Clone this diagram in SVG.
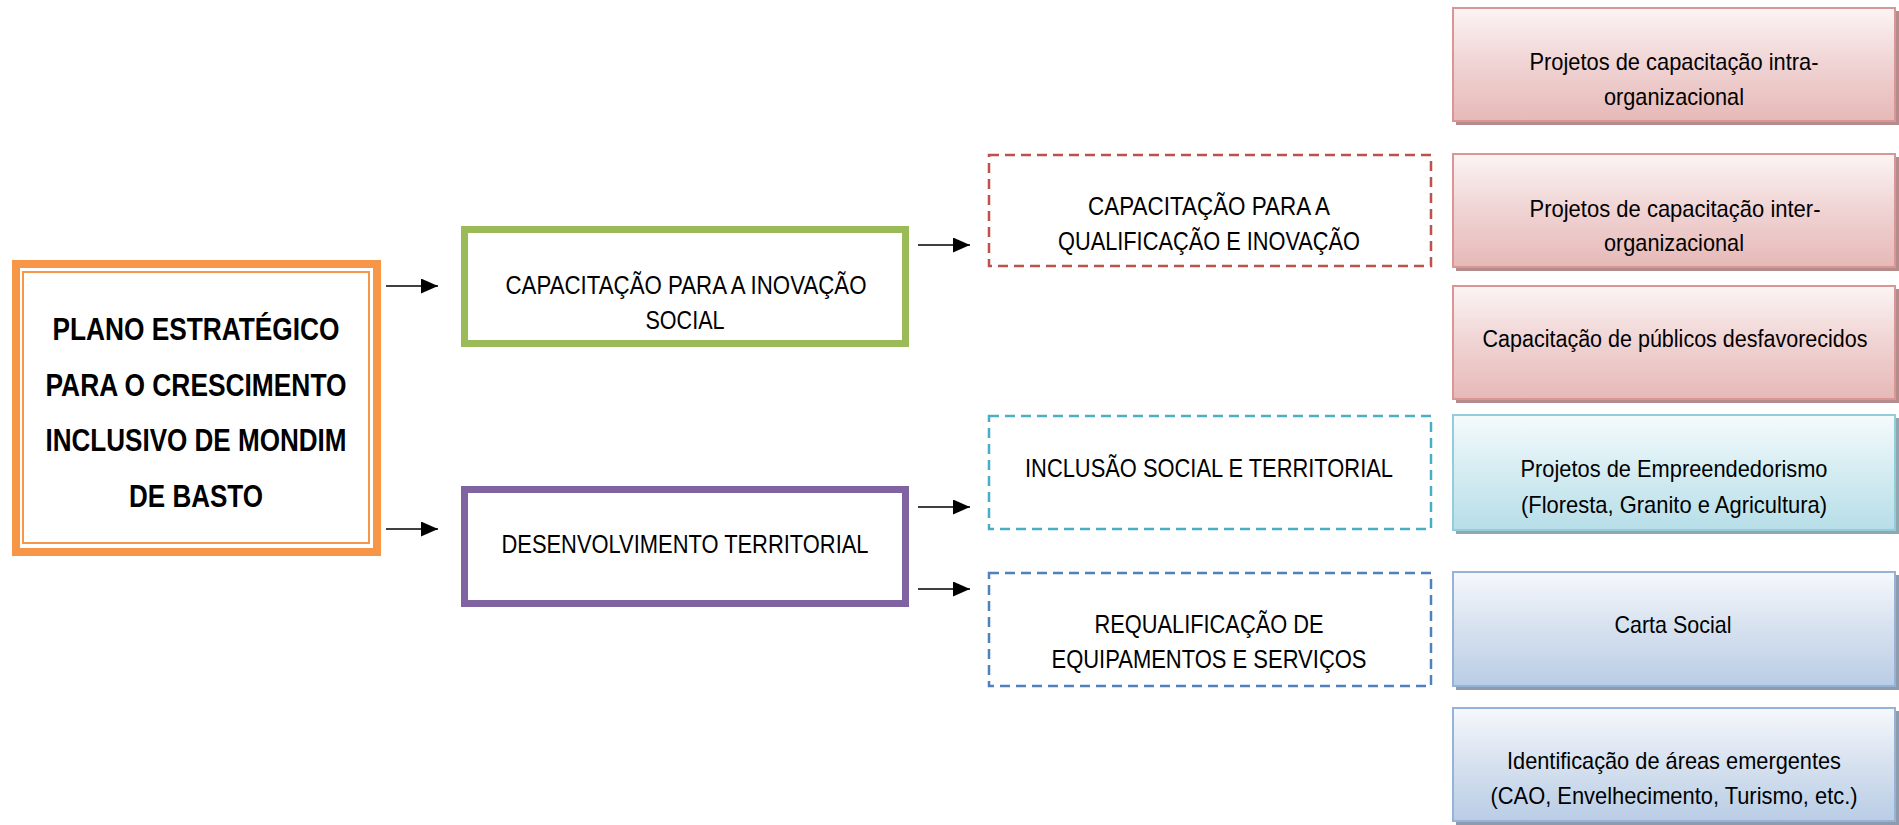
<svg xmlns="http://www.w3.org/2000/svg" width="1899" height="825" viewBox="0 0 1899 825">
<style>
text{font-family:"Liberation Sans",Arial,sans-serif;font-size:25px;fill:#000;text-anchor:middle}
.title{font-weight:bold;font-size:32px}
.sm{font-size:24px}
.xs{font-size:23px}
.dash{fill:none;stroke-width:2.5;stroke-dasharray:10 6}
.conn{stroke:#000;stroke-width:1.6;fill:none;marker-end:url(#arr)}
.red{fill:url(#gRed);stroke:#D99694;stroke-width:2}
.cyan{fill:url(#gCyan);stroke:#93CDDD;stroke-width:2}
.blue{fill:url(#gBlue);stroke:#95B3D7;stroke-width:2}
.shR{fill:#B48C8C}
.shC{fill:#8FA7AE}
.shB{fill:#8E9BAC}
</style>
<defs>
<marker id="arr" markerWidth="17" markerHeight="15" refX="17" refY="7.5" orient="auto" markerUnits="userSpaceOnUse">
<path d="M0,0 L17,7.5 L0,15 Z" fill="#000"/>
</marker>
<linearGradient id="gRed" x1="0" y1="0" x2="0" y2="1">
<stop offset="0" stop-color="#FCF4F4"/><stop offset="0.5" stop-color="#F0D3D3"/><stop offset="1" stop-color="#E6B9B8"/>
</linearGradient>
<linearGradient id="gCyan" x1="0" y1="0" x2="0" y2="1">
<stop offset="0" stop-color="#F5FBFC"/><stop offset="0.5" stop-color="#D4ECF2"/><stop offset="1" stop-color="#B7DEE8"/>
</linearGradient>
<linearGradient id="gBlue" x1="0" y1="0" x2="0" y2="1">
<stop offset="0" stop-color="#F6F8FC"/><stop offset="0.5" stop-color="#D6E1EF"/><stop offset="1" stop-color="#B9CDE5"/>
</linearGradient>
</defs>

<g id="connectors">
<line class="conn" x1="386" y1="286" x2="438" y2="286"/>
<line class="conn" x1="386" y1="529" x2="438" y2="529"/>
<line class="conn" x1="918" y1="245" x2="970" y2="245"/>
<line class="conn" x1="918" y1="507" x2="970" y2="507"/>
<line class="conn" x1="918" y1="589" x2="970" y2="589"/>
</g>

<g id="plano">
<rect x="16" y="264" width="361" height="288" fill="#fff" stroke="#F79646" stroke-width="8"/>
<rect x="23" y="272" width="346" height="271" fill="none" stroke="#F79646" stroke-width="2"/>
<text class="title" x="196" y="340" textLength="287" lengthAdjust="spacingAndGlyphs">PLANO ESTRATÉGICO</text>
<text class="title" x="196" y="396" textLength="301" lengthAdjust="spacingAndGlyphs">PARA O CRESCIMENTO</text>
<text class="title" x="196" y="451" textLength="301" lengthAdjust="spacingAndGlyphs">INCLUSIVO DE MONDIM</text>
<text class="title" x="196" y="507" textLength="134" lengthAdjust="spacingAndGlyphs">DE BASTO</text>
</g>

<g id="capacitacao-inovacao">
<rect x="464.5" y="229.5" width="441" height="114" fill="#fff" stroke="#9BBB59" stroke-width="7"/>
<text x="686" y="294" textLength="361" lengthAdjust="spacingAndGlyphs">CAPACITAÇÃO PARA A INOVAÇÃO</text>
<text x="685" y="329" textLength="79" lengthAdjust="spacingAndGlyphs">SOCIAL</text>
</g>

<g id="desenvolvimento">
<rect x="464.5" y="489.5" width="441" height="114" fill="#fff" stroke="#8064A2" stroke-width="7"/>
<text x="685" y="553" textLength="367" lengthAdjust="spacingAndGlyphs">DESENVOLVIMENTO TERRITORIAL</text>
</g>

<g id="qualificacao">
<rect class="dash" x="989" y="155" width="442" height="111" stroke="#C0504D"/>
<text x="1209" y="215" textLength="242" lengthAdjust="spacingAndGlyphs">CAPACITAÇÃO PARA A</text>
<text x="1209" y="250" textLength="302" lengthAdjust="spacingAndGlyphs">QUALIFICAÇÃO E INOVAÇÃO</text>
</g>

<g id="inclusao">
<rect class="dash" x="989" y="416" width="442" height="113" stroke="#4BACC6"/>
<text x="1209" y="477" textLength="368" lengthAdjust="spacingAndGlyphs">INCLUSÃO SOCIAL E TERRITORIAL</text>
</g>

<g id="requalificacao">
<rect class="dash" x="989" y="573" width="442" height="113" stroke="#4F81BD"/>
<text x="1209" y="633" textLength="229" lengthAdjust="spacingAndGlyphs">REQUALIFICAÇÃO DE</text>
<text x="1209" y="668" textLength="315" lengthAdjust="spacingAndGlyphs">EQUIPAMENTOS E SERVIÇOS</text>
</g>

<g id="intra">
<rect class="shR" x="1456" y="11" width="443" height="114"/>
<rect class="red" x="1453" y="8" width="442" height="113"/>
<text class="sm" x="1674" y="70" textLength="289" lengthAdjust="spacingAndGlyphs">Projetos de capacitação intra-</text>
<text class="sm" x="1674" y="105" textLength="140" lengthAdjust="spacingAndGlyphs">organizacional</text>
</g>

<g id="inter">
<rect class="shR" x="1456" y="157" width="443" height="114"/>
<rect class="red" x="1453" y="154" width="442" height="113"/>
<text class="sm" x="1675" y="217" textLength="291" lengthAdjust="spacingAndGlyphs">Projetos de capacitação inter-</text>
<text class="sm" x="1674" y="251" textLength="140" lengthAdjust="spacingAndGlyphs">organizacional</text>
</g>

<g id="publicos">
<rect class="shR" x="1456" y="289" width="443" height="114"/>
<rect class="red" x="1453" y="286" width="442" height="113"/>
<text class="xs" x="1675" y="347" textLength="385" lengthAdjust="spacingAndGlyphs">Capacitação de públicos desfavorecidos</text>
</g>

<g id="empreendedorismo">
<rect class="shC" x="1456" y="418" width="443" height="116"/>
<rect class="cyan" x="1453" y="415" width="442" height="115"/>
<text class="sm" x="1674" y="477" textLength="307" lengthAdjust="spacingAndGlyphs">Projetos de Empreendedorismo</text>
<text class="sm" x="1674" y="513" textLength="306" lengthAdjust="spacingAndGlyphs">(Floresta, Granito e Agricultura)</text>
</g>

<g id="carta">
<rect class="shB" x="1456" y="575" width="443" height="115"/>
<rect class="blue" x="1453" y="572" width="442" height="114"/>
<text class="sm" x="1673" y="633" textLength="117" lengthAdjust="spacingAndGlyphs">Carta Social</text>
</g>

<g id="areas">
<rect class="shB" x="1456" y="711" width="443" height="114"/>
<rect class="blue" x="1453" y="708" width="442" height="113"/>
<text class="sm" x="1674" y="769" textLength="334" lengthAdjust="spacingAndGlyphs">Identificação de áreas emergentes</text>
<text class="sm" x="1674" y="804" textLength="367" lengthAdjust="spacingAndGlyphs">(CAO, Envelhecimento, Turismo, etc.)</text>
</g>
</svg>
